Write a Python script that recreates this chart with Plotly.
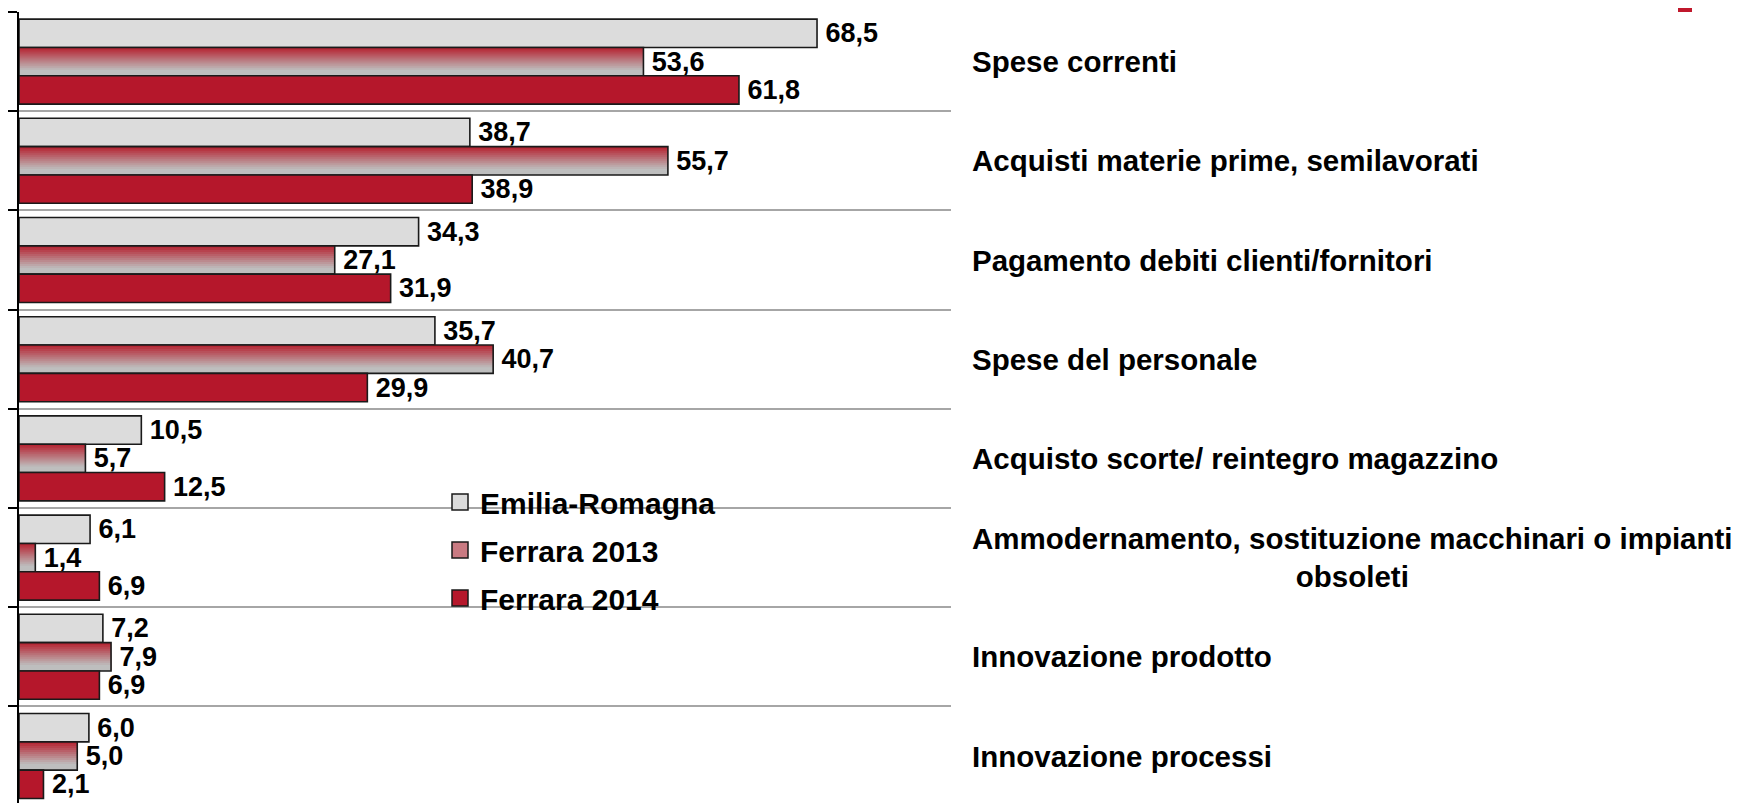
import plotly.graph_objects as go

categories = [
    "Spese correnti",
    "Acquisti materie prime, semilavorati",
    "Pagamento debiti clienti/fornitori",
    "Spese del personale",
    "Acquisto scorte/ reintegro magazzino",
    "Ammodernamento, sostituzione macchinari o impianti<br>obsoleti",
    "Innovazione prodotto",
    "Innovazione processi",
]
emilia_romagna = [68.5, 38.7, 34.3, 35.7, 10.5, 6.1, 7.2, 6.0]
ferrara_2013 = [53.6, 55.7, 27.1, 40.7, 5.7, 1.4, 7.9, 5.0]
ferrara_2014 = [61.8, 38.9, 31.9, 29.9, 12.5, 6.9, 6.9, 2.1]
series_names = ["Emilia-Romagna", "Ferrara 2013", "Ferrara 2014"]

ypos = list(range(len(categories)))
W = 0.2857  # bar thickness in category units
FONT = "Liberation Sans, Arial, sans-serif"
EDGE = "#1a1a1a"
GRAY = "#DCDCDC"
RED = "#B5172B"
LABEL_TPL = "<b>\u2009%{x:.1f}</b>"

# page body adds an 8px margin; compensate so the plot lands where the reference has it
BODY = 8
FIG_W, FIG_H = 1751 - BODY, 803 - BODY
ML, MT = 19 - BODY, 12 - BODY
PW = 932
MR = FIG_W - ML - PW
PH = FIG_H - MT

fig = go.Figure()

# Emilia-Romagna
fig.add_trace(go.Bar(
    y=ypos, x=emilia_romagna, orientation="h", name=series_names[0],
    width=W, offset=-1.5 * W,
    marker=dict(color=GRAY, line=dict(color=EDGE, width=1.6)),
    texttemplate=LABEL_TPL, textposition="outside", constraintext="none",
    textfont=dict(family=FONT, size=27, color="black"),
    cliponaxis=False, showlegend=False,
))

# Ferrara 2013: vertical gradient (red top -> grey bottom), nested layers
N = 14
top_c = (181, 32, 46)
bot_c = (190, 190, 190)
for k in range(N):
    t = min(1.0, (k + 0.5) / N / 0.8)
    c = tuple(int(round(top_c[i] + (bot_c[i] - top_c[i]) * t)) for i in range(3))
    fig.add_trace(go.Bar(
        y=ypos, x=ferrara_2013, orientation="h",
        width=W * (N - k) / N, offset=-0.5 * W + k * W / N,
        marker=dict(color="rgb(%d,%d,%d)" % c, line=dict(width=0)),
        showlegend=False, hoverinfo="skip",
    ))
fig.add_trace(go.Bar(
    y=ypos, x=ferrara_2013, orientation="h", name=series_names[1],
    width=W, offset=-0.5 * W,
    marker=dict(color="rgba(0,0,0,0)", line=dict(color=EDGE, width=1.6)),
    texttemplate=LABEL_TPL, textposition="outside", constraintext="none",
    textfont=dict(family=FONT, size=27, color="black"),
    cliponaxis=False, showlegend=False,
))

# Ferrara 2014
fig.add_trace(go.Bar(
    y=ypos, x=ferrara_2014, orientation="h", name=series_names[2],
    width=W, offset=0.5 * W,
    marker=dict(color=RED, line=dict(color=EDGE, width=1.6)),
    texttemplate=LABEL_TPL, textposition="outside", constraintext="none",
    textfont=dict(family=FONT, size=27, color="black"),
    cliponaxis=False, showlegend=False,
))

# legend entries (square swatches)
legend_colors = [GRAY, "#C97A82", RED]
for i, nm in enumerate(series_names):
    fig.add_trace(go.Scatter(
        x=[None], y=[None], mode="markers", name=nm,
        marker=dict(symbol="square", size=18, color=legend_colors[i],
                    line=dict(color=EDGE, width=1.5)),
        legendgroup="g%d" % i, showlegend=True,
    ))

annotations = []
for i, cat in enumerate(categories):
    annotations.append(dict(
        x=(970 - 19) / PW, xref="paper", y=ypos[i], yref="y",
        text="<b>%s</b>" % cat, showarrow=False,
        xanchor="left", yanchor="middle", align="center",
        font=dict(family=FONT, size=29.5, color="black"),
    ))

shapes = [
    # white backing behind legend (interrupts gridlines)
    dict(type="rect", xref="paper", yref="y", x0=(368 - 19) / PW, x1=(791 - 19) / PW, y0=4.3, y1=5.7,
         fillcolor="white", line=dict(width=0), layer="between"),
    # partial logo mark at top right
    dict(type="rect", xref="paper", yref="paper", x0=(1678 - 19) / PW, x1=(1692 - 19) / PW,
         y0=1.0 + (MT - 4) / PH, y1=1.0 + (MT + 1) / PH, fillcolor="#C0182C", line=dict(width=0)),
]

n = len(categories)
fig.update_layout(
    width=FIG_W, height=FIG_H,
    margin=dict(l=ML, r=MR, t=MT, b=0, autoexpand=False),
    paper_bgcolor="white", plot_bgcolor="white",
    barmode="overlay", separators=", ",
    font=dict(family=FONT, color="black"),
    xaxis=dict(range=[0, 80], visible=False, fixedrange=True, automargin=False),
    yaxis=dict(
        range=[-0.5 + PH / 99.2, -0.5], automargin=False,
        tickvals=[i - 0.5 for i in range(n)],
        ticks="outside", ticklen=10, tickwidth=1.5, tickcolor="black",
        showticklabels=False, showgrid=True, gridcolor="#A6A6A6", gridwidth=1.5,
        showline=True, linecolor="black", linewidth=2, zeroline=False,
    ),
    legend=dict(
        x=(440 - 19) / PW, xanchor="left", y=1 - (476 - 12) / PH, yanchor="top",
        bgcolor="rgba(255,255,255,0)", traceorder="grouped", tracegroupgap=6,
        itemsizing="trace",
        font=dict(family=FONT, size=30, color="black", weight="bold"),
    ),
    annotations=annotations,
    shapes=shapes,
    showlegend=True,
)

fig.write_html("out.html")
